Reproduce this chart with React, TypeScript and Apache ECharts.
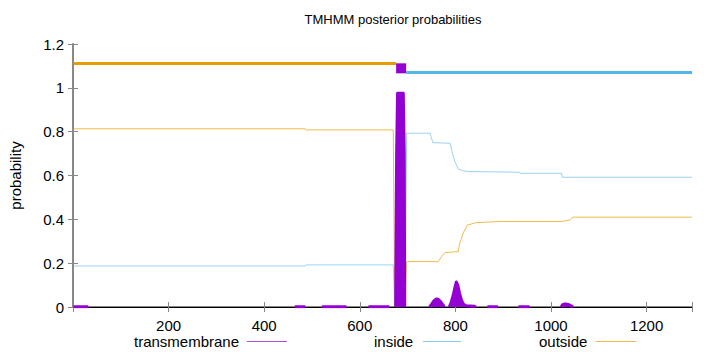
import React, { useEffect, useRef } from "react";
import * as echarts from "echarts";

// Sequence positions and posterior probabilities
const insideX = [1, 486, 488, 670, 673, 695, 698, 747, 750, 753, 789, 794, 799, 806, 815, 827, 933, 935, 1022, 1024, 1295];
const insideY = [0.187, 0.187, 0.192, 0.192, 0.005, 0.005, 0.793, 0.793, 0.77, 0.75, 0.747, 0.70, 0.663, 0.63, 0.622, 0.618, 0.615, 0.61, 0.61, 0.592, 0.592];

const outsideX = [1, 486, 488, 670, 673, 695, 698, 764, 771, 778, 806, 809, 813, 816, 825, 844, 893, 1022, 1039, 1046, 1295];
const outsideY = [0.813, 0.813, 0.808, 0.808, 0.017, 0.017, 0.207, 0.207, 0.23, 0.248, 0.253, 0.291, 0.314, 0.336, 0.374, 0.385, 0.39, 0.39, 0.397, 0.41, 0.41];

// transmembrane probability; null separates segments
const tmX = [
  1, 32, null,
  464, 486, null,
  521, 572, null,
  618, 662, null,
  675, 677, 679, 691, 693, 694, null,
  746, 750, 755, 760, 764, 769, 774, 777, null,
  787, 791, 795, 799, 802, 805, 809, 813, 817, 822, 840, 843, null,
  867, 889, null,
  932, 955, null,
  1021, 1024, 1030, 1038, 1043, 1046,
];
const tmY = [
  0.001, 0.001, null,
  0.001, 0.001, null,
  0.001, 0.001, null,
  0.001, 0.001, null,
  0, 0.7, 0.975, 0.975, 0.7, 0, null,
  0, 0.012, 0.028, 0.037, 0.035, 0.025, 0.01, 0, null,
  0, 0.02, 0.05, 0.09, 0.114, 0.1, 0.06, 0.03, 0.012, 0.006, 0.003, 0, null,
  0.001, 0.001, null,
  0.001, 0.001, null,
  0, 0.01, 0.014, 0.01, 0.004, 0,
];

// predicted topology
const regionType = ["outside", "TMhelix", "inside"];
const regionStart = [1, 676, 697];
const regionEnd = [676, 697, 1295];
const regionLevel: Record<string, number> = { outside: 1.111, TMhelix: 1.089, inside: 1.07 };

const xTicks = [200, 400, 600, 800, 1000, 1200];
const yTicks = [0, 0.2, 0.4, 0.6, 0.8, 1, 1.2];
const legendNames = ["transmembrane", "inside", "outside"];

const PURPLE = "#9400d3";
const BLUE = "#56b4e9";
const ORANGE = "#e69f00";
const FONT = "'Liberation Sans', Arial, sans-serif";

const pairs = (xs: (number | null)[], ys: (number | null)[]) =>
  xs.map((x, i) => (ys[i] === null || x === null ? [x, null] : [x, ys[i]]));

export default function App() {
  const ref = useRef<HTMLDivElement>(null);
  useEffect(() => {
    if (!ref.current) return;
    const chart = echarts.init(ref.current, null, { renderer: "svg" });
    const regionColor: Record<string, string> = { outside: ORANGE, TMhelix: PURPLE, inside: BLUE };
    const regionWidth: Record<string, number> = { outside: 3, TMhelix: 10, inside: 3 };
    const topSeries = regionType.map((t, i) => ({
      type: "line",
      name: "region-" + t,
      data: [
        [regionStart[i], regionLevel[t]],
        [regionEnd[i], regionLevel[t]],
      ],
      showSymbol: false,
      silent: true,
      lineStyle: { color: regionColor[t], width: regionWidth[t], cap: "butt" },
      itemStyle: { color: regionColor[t] },
      z: 3,
    }));
    const axisText = { fontSize: 15, color: "#000", fontFamily: FONT };

    // legend drawn gnuplot-style: label then line sample
    const legendLayout = [
      { textX: 134, lineX1: 247, lineX2: 287, color: PURPLE },
      { textX: 374, lineX1: 423, lineX2: 461, color: BLUE },
      { textX: 539, lineX1: 596, lineX2: 636, color: ORANGE },
    ];
    const legendY = 341;
    const legendGraphics: any[] = [];
    legendNames.forEach((name, i) => {
      const l = legendLayout[i];
      legendGraphics.push({
        type: "text",
        x: l.textX,
        y: legendY,
        style: {
          text: name,
          fill: "#000",
          font: `15px ${FONT}`,
          verticalAlign: "middle",
          align: "left",
        },
      });
      legendGraphics.push({
        type: "line",
        shape: { x1: l.lineX1, y1: legendY + 0.5, x2: l.lineX2, y2: legendY + 0.5 },
        style: { stroke: l.color, lineWidth: 1, opacity: 0.7 },
      });
    });

    chart.setOption({
      animation: false,
      textStyle: { fontFamily: FONT },
      title: {
        text: "TMHMM posterior probabilities",
        left: 393,
        textAlign: "center",
        top: 13,
        padding: 0,
        textStyle: { fontSize: 13, fontWeight: "normal", color: "#000", fontFamily: FONT },
      },
      grid: { left: 73, right: 28, top: 44, bottom: 45, containLabel: false },
      graphic: legendGraphics,
      xAxis: [
        {
          type: "value",
          position: "bottom",
          min: 0,
          max: 1295,
          interval: 200,
          axisLine: { lineStyle: { color: "#888", width: 2 } },
          axisTick: { inside: true, length: 5, lineStyle: { color: "#888" } },
          axisLabel: {
            ...axisText,
            margin: 11,
            formatter: (v: number) => (xTicks.includes(v) ? String(v) : ""),
          },
          splitLine: { show: false },
        },
        {
          type: "value",
          position: "top",
          min: 0,
          max: 1295,
          interval: 200,
          axisLine: { lineStyle: { color: "#000", width: 1 } },
          axisTick: { inside: true, length: 5, lineStyle: { color: "#888" } },
          axisLabel: { show: false },
          splitLine: { show: false },
        },
      ],
      yAxis: [
        {
          type: "value",
          position: "left",
          min: yTicks[0],
          max: yTicks[yTicks.length - 1],
          interval: 0.2,
          name: "probability",
          nameLocation: "middle",
          nameGap: 50,
          nameTextStyle: { fontSize: 15, color: "#000", fontFamily: FONT },
          axisLine: { lineStyle: { color: "#000", width: 1 } },
          axisTick: { inside: true, length: 5, lineStyle: { color: "#888" } },
          axisLabel: { ...axisText, margin: 9 },
          splitLine: { show: false },
        },
        {
          type: "value",
          position: "right",
          min: 0,
          max: 1.2,
          interval: 0.2,
          axisLine: { lineStyle: { color: "#888", width: 2 } },
          axisTick: { inside: true, length: 5, lineStyle: { color: "#888" } },
          axisLabel: { show: false },
          splitLine: { show: false },
        },
      ],
      series: [
        {
          type: "line",
          name: "outside",
          data: pairs(outsideX, outsideY),
          showSymbol: false,
          lineStyle: { color: ORANGE, width: 1, opacity: 0.7 },
          itemStyle: { color: ORANGE },
          z: 2,
        },
        {
          type: "line",
          name: "inside",
          data: pairs(insideX, insideY),
          showSymbol: false,
          lineStyle: { color: BLUE, width: 1, opacity: 0.6 },
          itemStyle: { color: BLUE },
          z: 2,
        },
        {
          type: "line",
          name: "transmembrane",
          data: pairs(tmX, tmY),
          showSymbol: false,
          connectNulls: false,
          lineStyle: { color: PURPLE, width: 3, join: "round" },
          areaStyle: { color: PURPLE, opacity: 1 },
          itemStyle: { color: PURPLE },
          z: 4,
        },
        ...topSeries,
      ],
    });
    return () => chart.dispose();
  }, []);
  return (
    <div
      ref={ref}
      style={{ position: "fixed", left: 0, top: 0, width: 720, height: 352, background: "#fff" }}
    />
  );
}
